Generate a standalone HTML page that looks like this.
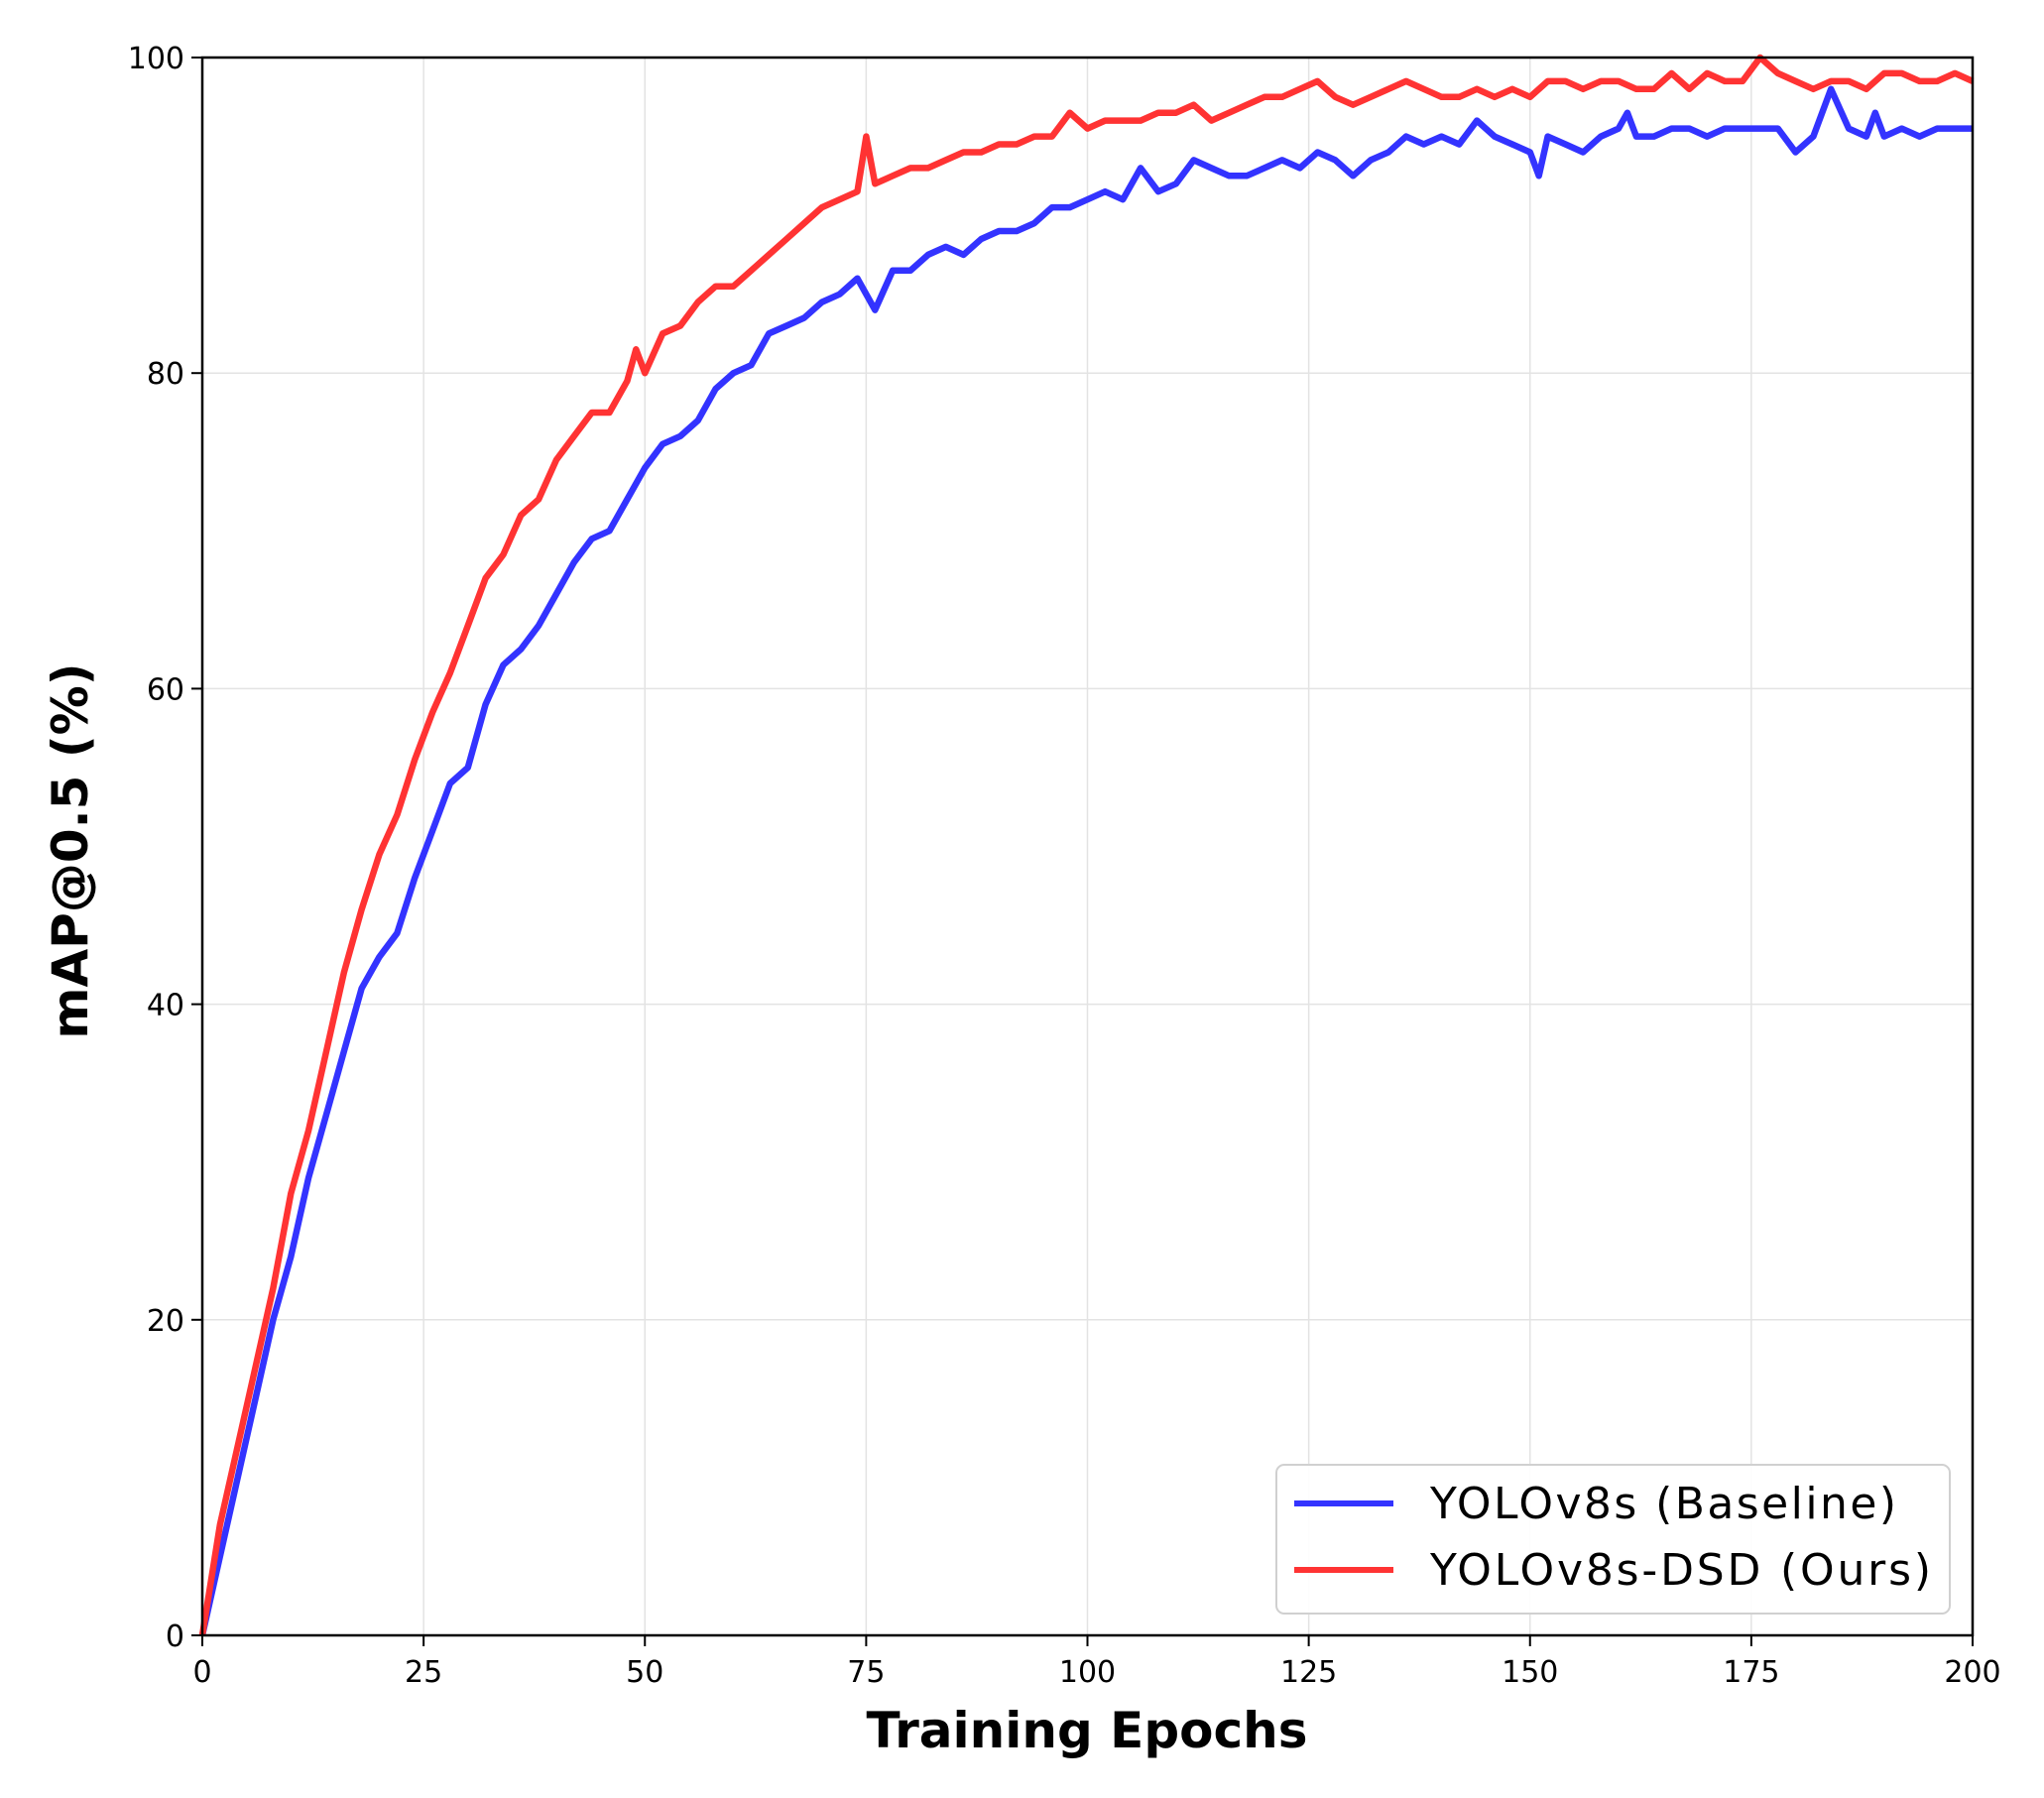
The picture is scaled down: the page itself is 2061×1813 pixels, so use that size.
<!DOCTYPE html>
<html><head><meta charset="utf-8"><style>
body{margin:0;background:#fff}
svg text{font-family:"DejaVu Sans","Liberation Sans",sans-serif}
</style></head><body>
<svg id="c" width="2061" height="1808" viewBox="0 0 2061 1808">
<g id="grid"></g>
<g id="series"></g>
<rect x="204" y="58" width="1785" height="1591" fill="none" stroke="#000" stroke-width="2.5"/>
<g id="ticks"></g>
<text x="1096" y="1762" font-size="50" font-weight="bold" text-anchor="middle">Training Epochs</text>
<text x="0" y="0" font-size="50" font-weight="bold" text-anchor="middle" transform="translate(88,858) rotate(-90)">mAP@0.5 (%)</text>
<g>
<rect x="1287" y="1477" width="679" height="150" rx="8" fill="#fff" fill-opacity="0.9" stroke="#d0d0d0" stroke-width="2"/>
<line x1="1305" y1="1516" x2="1405" y2="1516" stroke="#3333ff" stroke-width="6"/>
<text x="1442" y="1531" font-size="44" textLength="470">YOLOv8s (Baseline)</text>
<line x1="1305" y1="1583" x2="1405" y2="1583" stroke="#ff3333" stroke-width="6"/>
<text x="1442" y="1598" font-size="44" textLength="505">YOLOv8s-DSD (Ours)</text>
</g>
</svg>
<script>
const xTicks=[0,25,50,75,100,125,150,175,200];
const yTicks=[0,20,40,60,80,100];
const baseEpochs=[0,2,4,6,8,10,12,14,16,18,20,22,24,26,28,30,32,34,36,38,40,42,44,46,48,50,52,54,56,58,60,62,64,66,68,70,72,74,76,78,80,82,84,86,88,90,92,94,96,98,100,102,104,106,108,110,112,114,116,118,120,122,124,126,128,130,132,134,136,138,140,142,144,146,148,150,151,152,154,156,158,160,161,162,164,166,168,170,172,174,176,178,180,182,184,186,188,189,190,192,194,196,198,200];
const baseValues=[0,5,10,15,20,24,29,33,37,41,43,44.5,48,51,54,55,59,61.5,62.5,64,66,68,69.5,70,72,74,75.5,76,77,79,80,80.5,82.5,83,83.5,84.5,85,86,84,86.5,86.5,87.5,88,87.5,88.5,89,89,89.5,90.5,90.5,91,91.5,91,93,91.5,92,93.5,93,92.5,92.5,93,93.5,93,94,93.5,92.5,93.5,94,95,94.5,95,94.5,96,95,94.5,94,92.5,95,94.5,94,95,95.5,96.5,95,95,95.5,95.5,95,95.5,95.5,95.5,95.5,94,95,98,95.5,95,96.5,95,95.5,95,95.5,95.5,95.5];
const oursEpochs=[0,2,4,6,8,10,12,14,16,18,20,22,24,26,28,30,32,34,36,38,40,42,44,46,48,49,50,52,54,56,58,60,62,64,66,68,70,72,74,75,76,78,80,82,84,86,88,90,92,94,96,98,100,102,104,106,108,110,112,114,116,118,120,122,124,126,128,130,132,134,136,138,140,142,144,146,148,150,152,154,156,158,160,162,164,166,168,170,172,174,176,178,180,182,184,186,188,190,192,194,196,198,200];
const oursValues=[0,7,12,17,22,28,32,37,42,46,49.5,52,55.5,58.5,61,64,67,68.5,71,72,74.5,76,77.5,77.5,79.5,81.5,80,82.5,83,84.5,85.5,85.5,86.5,87.5,88.5,89.5,90.5,91,91.5,95,92,92.5,93,93,93.5,94,94,94.5,94.5,95,95,96.5,95.5,96,96,96,96.5,96.5,97,96,96.5,97,97.5,97.5,98,98.5,97.5,97,97.5,98,98.5,98,97.5,97.5,98,97.5,98,97.5,98.5,98.5,98,98.5,98.5,98,98,99,98,99,98.5,98.5,100,99,98.5,98,98.5,98.5,98,99,99,98.5,98.5,99,98.5];
const L=204,R=1989,T=58,B=1649,NS='http://www.w3.org/2000/svg';
const xs=v=>L+(v-0)/200*(R-L), ys=v=>B-(v-0)/100*(B-T);
const grid=document.getElementById('grid'),ticks=document.getElementById('ticks'),ser=document.getElementById('series');
function mk(tag,attrs,parent){const e=document.createElementNS(NS,tag);for(const k in attrs)e.setAttribute(k,attrs[k]);parent.appendChild(e);return e;}
xTicks.forEach(t=>{
  const g=mk('line',{x1:xs(t),x2:xs(t),y1:T,y2:B,stroke:'#e3e3e3','stroke-width':1.5},grid);
  
  
  const tk=mk('line',{x1:xs(t),x2:xs(t),y1:B,y2:B+11,stroke:'#000','stroke-width':2},ticks);
  
  
  const tx=mk('text',{x:xs(t),y:B+47,'font-size':30,'text-anchor':'middle'},ticks);
  tx.textContent=t;
  
  
});
yTicks.forEach(t=>{
  const g=mk('line',{x1:L,x2:R,y1:ys(t),y2:ys(t),stroke:'#e3e3e3','stroke-width':1.5},grid);
  
  
  const tk=mk('line',{x1:L-11,x2:L,y1:ys(t),y2:ys(t),stroke:'#000','stroke-width':2},ticks);
  
  
  const tx=mk('text',{x:L-18,y:ys(t)+11,'font-size':30,'text-anchor':'end'},ticks);
  tx.textContent=t;
  
  
});
function line(ep,vals,color,name){
  const d=ep.map((e,i)=>(i?'L':'M')+xs(e).toFixed(1)+','+ys(vals[i]).toFixed(1)).join('');
  const p=mk('path',{d:d,fill:'none',stroke:color,'stroke-width':6.5,'stroke-linejoin':'round'},ser);
  
  
}
line(baseEpochs,baseValues,'#3333ff','baseline-line');
line(oursEpochs,oursValues,'#ff3333','ours-line');
</script>
</body></html>
